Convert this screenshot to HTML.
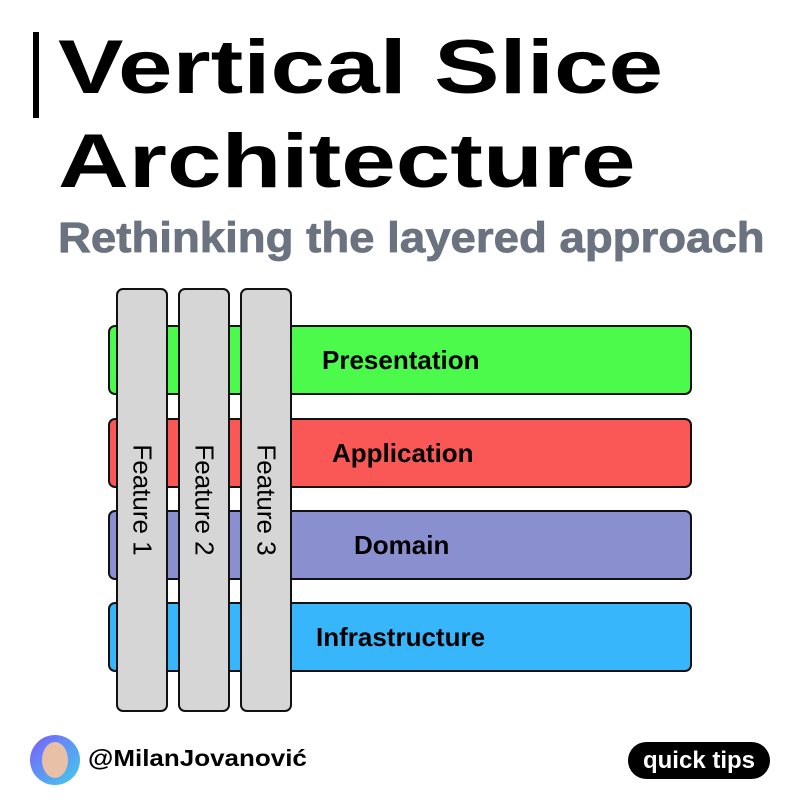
<!DOCTYPE html>
<html><head><style>
body{margin:0;width:800px;height:800px;background:#fff;position:relative;overflow:hidden;font-family:"Liberation Sans",sans-serif}
.a{position:absolute}
.t{left:58px;font-weight:bold;font-size:76px;color:#000;line-height:1;transform:scaleX(1.29);transform-origin:0 0;white-space:nowrap}
.bar{position:absolute;left:108px;width:580px;height:66px;border:2px solid #111;border-radius:7px;box-sizing:content-box}
.bar span{position:absolute;top:0;line-height:66px;font-weight:bold;font-size:26px;color:#000}
.col{position:absolute;top:288px;width:48px;height:420px;background:#d6d6d6;border:2px solid #111;border-radius:7px}
.col span{position:absolute;left:50%;top:50%;transform:translate(-50%,-50%) rotate(90deg);white-space:nowrap;font-size:26px;color:#000}
</style></head><body>
<div class="a" style="left:33px;top:32px;width:6px;height:86px;background:#000"></div>
<div class="a t" style="top:30px">Vertical Slice</div>
<div class="a t" style="top:124px">Architecture</div>
<div class="a" style="left:58px;top:214px;font-weight:bold;font-size:43px;color:#6b7280;transform:scaleX(1.06);transform-origin:0 0;white-space:nowrap;-webkit-text-stroke:0.8px #6b7280">Rethinking the layered approach</div>

<div class="bar" style="top:325px;background:#4cfa4c"><span style="left:212px">Presentation</span></div>
<div class="bar" style="top:418px;background:#fa5757"><span style="left:222px">Application</span></div>
<div class="bar" style="top:510px;background:#8a8fd0"><span style="left:244px">Domain</span></div>
<div class="bar" style="top:602px;background:#38b6fc"><span style="left:206px">Infrastructure</span></div>

<div class="col" style="left:116px"><span>Feature 1</span></div>
<div class="col" style="left:178px"><span>Feature 2</span></div>
<div class="col" style="left:240px"><span>Feature 3</span></div>

<div class="a" style="left:30px;top:735px;width:50px;height:50px;border-radius:50%;background:linear-gradient(135deg,#7b5cff,#3fd0e8)"></div>
<div class="a" style="left:42px;top:742px;width:26px;height:36px;border-radius:50%;background:#e8c0a8"></div>
<div class="a" style="left:88px;top:745px;font-weight:bold;font-size:23px;transform:scaleX(1.13);transform-origin:0 0;white-space:nowrap">@MilanJovanović</div>
<div class="a" style="left:628px;top:742px;width:142px;height:37px;border-radius:19px;background:#000;color:#fff;font-weight:bold;font-size:24px;line-height:37px;text-align:center">quick tips</div>
</body></html>
